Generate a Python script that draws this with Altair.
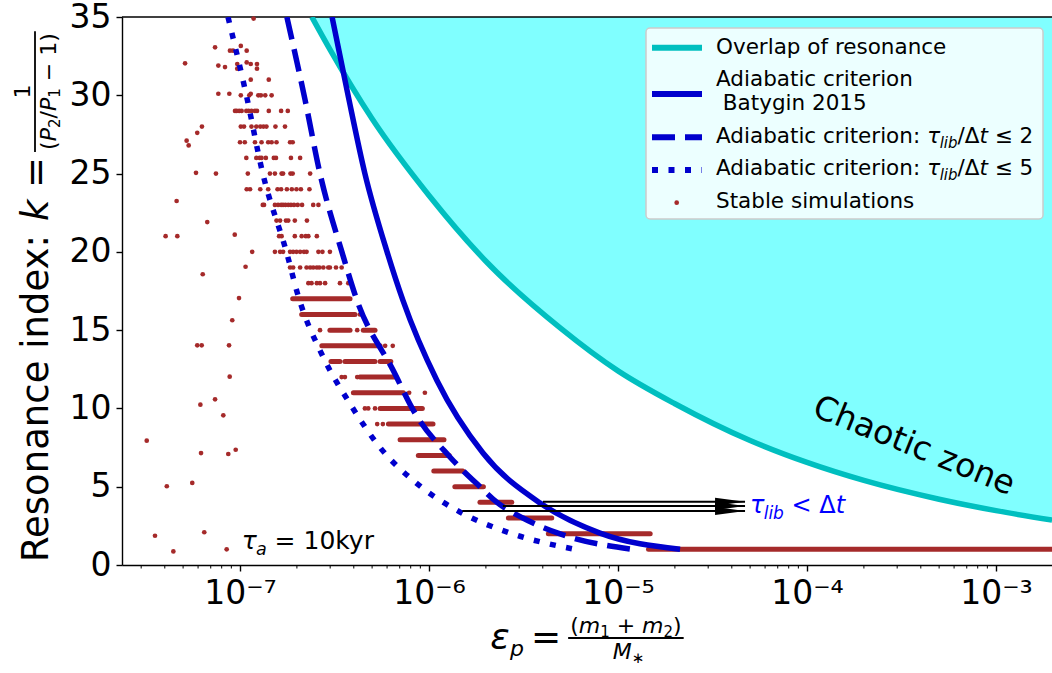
import altair as alt
import pandas as pd

# ---------------- values ----------------
# resonance-overlap boundary (chaotic zone lies above it)
overlap_eps = [2.40e-7, 3.0e-7, 5.0e-7, 1.0e-6, 2.0e-6, 5.0e-6, 1.0e-5, 2.0e-5,
               5.0e-5, 1.0e-4, 2.0e-4, 5.0e-4, 1.0e-3, 1.98e-3]
overlap_k = [35.0, 32.9, 28.5, 23.6, 19.4, 15.1, 12.4, 10.3, 7.95, 6.55, 5.4, 4.2, 3.47, 2.87]

# adiabatic criterion (Batygin 2015)
batygin_eps = [3.07e-7, 3.73e-7, 4.58e-7, 6.0e-7, 7.28e-7, 1.10e-6, 1.93e-6, 3.87e-6, 8.03e-6, 2.13e-5]
batygin_k = [35, 30, 25, 20, 16.9, 11.8, 7.15, 3.96, 2.04, 1.0]

# adiabatic criterion tau_lib/dt <= 2
tau2_eps = [1.77e-7, 2.21e-7, 2.65e-7, 3.46e-7, 4.16e-7, 6.45e-7, 8.43e-7, 1.29e-6,
            1.86e-6, 2.29e-6, 3.14e-6, 4.9e-6, 1.20e-5]
tau2_k = [35, 29.7, 25, 20, 16.9, 12.45, 9.7, 6.9, 5.0, 4.0, 3.0, 2.0, 1.0]

# adiabatic criterion tau_lib/dt <= 5
tau5_eps = [8.64e-8, 1.076e-7, 1.32e-7, 1.77e-7, 2.03e-7, 2.75e-7, 3.82e-7, 5.51e-7,
            8.64e-7, 1.46e-6, 2.68e-6, 5.92e-6]
tau5_k = [35, 30.1, 25, 19.9, 17.2, 13.3, 10.3, 7.5, 5.2, 3.38, 2.04, 1.0]

# stable simulations: individual points
stable_eps = [
    1.18e-7,
    7.38e-8, 8.85e-8, 9.18e-8, 1.01e-7, 1.085e-7,
    5.12e-8, 7.68e-8, 8.33e-8, 9.67e-8, 9.67e-8, 1.085e-7, 1.14e-7, 1.23e-7, 1.23e-7,
    1.14e-7, 1.42e-7,
    7.68e-8, 8.78e-8, 1.01e-7, 1.12e-7, 1.14e-7, 1.25e-7, 1.29e-7, 1.36e-7, 1.47e-7,
    9.41e-8, 9.6e-8, 9.9e-8, 1.02e-7, 1.08e-7, 1.11e-7, 1.15e-7, 1.20e-7, 1.23e-7, 1.42e-7, 1.65e-7, 1.79e-7,
    5.94e-8, 6.29e-8, 1.01e-7, 1.05e-7, 1.15e-7, 1.22e-7, 1.28e-7, 1.33e-7, 1.38e-7, 1.54e-7, 1.73e-7,
    5.22e-8, 5.35e-8, 1.0e-7, 1.06e-7, 1.20e-7, 1.30e-7, 1.41e-7, 1.47e-7, 1.56e-7, 1.84e-7, 1.90e-7,
    1.08e-7, 1.22e-7, 1.27e-7, 1.30e-7, 1.37e-7, 1.51e-7, 1.55e-7, 1.86e-7, 2.08e-7,
    5.85e-8, 7.46e-8, 1.10e-7, 1.44e-7, 1.53e-7, 1.66e-7, 1.69e-7, 1.85e-7, 1.90e-7, 2.35e-7,
    1.085e-7, 1.13e-7, 1.28e-7, 1.41e-7, 1.58e-7, 1.65e-7, 1.77e-7, 1.88e-7, 1.99e-7, 2.10e-7, 2.33e-7,
    4.62e-8, 1.32e-7, 1.34e-7, 1.53e-7, 1.59e-7, 1.65e-7, 1.69e-7, 1.74e-7, 1.80e-7, 1.86e-7, 1.93e-7,
    2.02e-7, 2.13e-7, 2.44e-7, 2.60e-7,
    6.71e-8, 1.56e-7, 1.63e-7, 1.75e-7, 1.80e-7, 1.95e-7, 2.26e-7,
    4.04e-8, 4.66e-8, 9.38e-8, 1.61e-7, 1.66e-7, 1.95e-7, 2.12e-7, 2.23e-7, 2.30e-7, 2.55e-7,
    1.16e-7, 1.53e-7, 1.63e-7, 1.69e-7, 1.84e-7, 1.91e-7, 1.99e-7, 2.08e-7, 2.18e-7, 2.25e-7, 2.60e-7, 2.73e-7, 2.99e-7,
    1.07e-7, 1.84e-7, 1.91e-7, 2.08e-7, 2.25e-7, 2.35e-7, 2.44e-7, 2.55e-7, 2.63e-7, 2.76e-7, 2.93e-7, 2.99e-7, 3.22e-7, 3.45e-7,
    6.35e-8, 2.30e-7, 2.39e-7, 2.55e-7, 2.65e-7, 2.82e-7, 3.38e-7, 3.74e-7,
    9.88e-8, 9.10e-8, 4.31e-7, 2.65e-7, 4.17e-7,
    5.94e-8, 6.27e-8, 8.75e-8, 5.86e-7, 6.43e-7,
    8.82e-8, 3.45e-7, 3.59e-7, 4.17e-7,
    7.85e-7, 9.51e-7,
    6.17e-8, 7.38e-8, 8.16e-8, 4.58e-7, 4.77e-7, 5.18e-7,
    5.32e-7, 5.70e-7,
    3.21e-8, 6.22e-8, 8.67e-8, 9.49e-8,
    4.10e-8, 5.59e-8,
    3.55e-8, 6.47e-8,
    4.44e-8, 8.50e-8,
]
stable_k = [
    34.9,
    33.06, 32.85, 32.85, 33.15, 32.85,
    32.04, 31.9, 31.8, 32.0, 31.7, 32.1, 32.0, 32.0, 31.7,
    31.0, 31.0,
    30.1, 30.1, 30.0, 30.0, 30.1, 30.0, 30.0, 30.0, 30.0,
    29, 29, 29, 29, 29, 29, 29, 29, 29, 29, 29, 29,
    27.6, 28.0, 28, 28, 28, 28, 28, 28, 28, 28, 28,
    27.1, 26.8, 27, 27, 27, 27, 27, 27, 27, 27, 27,
    26, 26, 26, 26, 26, 26, 26, 26, 26,
    25.05, 25.0, 25, 25, 25, 25, 25, 25, 25, 25,
    24, 24, 24, 24, 24, 24, 24, 24, 24, 24, 24,
    23.25, 23, 23, 23, 23, 23, 23, 23, 23, 23, 23,
    23, 23, 23, 23,
    21.9, 22, 22, 22, 22, 22, 22,
    21.0, 21.0, 21.1, 21, 21, 21, 21, 21, 21, 21,
    20.0, 20, 20, 20, 20, 20, 20, 20, 20, 20, 20, 20, 20,
    19.05, 19, 19, 19, 19, 19, 19, 19, 19, 19, 19, 19, 19, 19,
    18.57, 18, 18, 18, 18, 18, 18, 18,
    17.05, 15.63, 16, 15, 15,
    14.03, 14.03, 14.03, 14, 14,
    12.03, 12, 12, 12,
    11, 11,
    10.24, 10.58, 9.56, 10, 10, 10,
    9, 9,
    7.94, 7.15, 7.09, 7.36,
    5.03, 5.24,
    1.87, 2.09,
    0.87, 1.0,
]

# stable simulations: dense runs along one resonance index
run_k = [17, 16, 15, 15, 14, 13, 13, 13, 12, 11, 10, 9, 8, 7, 6, 5, 4, 3, 2, 1]
run_eps0 = [1.90e-7, 2.12e-7, 2.99e-7, 4.49e-7, 2.71e-7, 3.03e-7, 3.59e-7, 5.51e-7, 4.31e-7, 3.98e-7,
            5.51e-7, 6.10e-7, 7.03e-7, 8.78e-7, 1.06e-6, 1.37e-6, 1.86e-6, 2.63e-6, 4.28e-6, 1.45e-5]
run_eps1 = [3.82e-7, 4.06e-7, 3.82e-7, 5.18e-7, 5.51e-7, 3.38e-7, 5.18e-7, 6.28e-7, 6.69e-7, 7.32e-7,
            9.22e-7, 1.05e-6, 1.20e-6, 1.28e-6, 1.51e-6, 1.94e-6, 2.74e-6, 4.46e-6, 1.48e-5, 1.98e-3]

# arrows  (tau_lib < dt)
arrow_k = [4.04, 3.77, 3.45]
arrow_eps0 = [4.01e-6, 2.46e-6, 1.50e-6]
arrow_eps1 = [4.7e-5, 4.7e-5, 4.7e-5]

x_major = [1e-7, 1e-6, 1e-5, 1e-4, 1e-3]
x_minor = [m * 10.0 ** e for e in range(-8, -2) for m in range(2, 10)
           if 2.375e-8 < m * 10.0 ** e < 1.978e-3]
y_ticks = [0, 5, 10, 15, 20, 25, 30, 35]

# annotation anchors (data coordinates)
chaos_anchor = (3.68e-4, 7.6)
tlib_anchor = (4.99e-5, 3.29)
tau_a_anchor = (1.02e-7, 1.02)

# ---------------- layout ----------------
LEFT, TOP, PW, PH = 122, 17, 930, 548
FONT = 'DejaVu Sans'
BROWN = '#A52A2A'
BLUE = '#0000CD'
CYAN_LINE = '#00BFBF'
CYAN_FILL = '#80FFFF'

xs = alt.Scale(type='log', domain=[2.375e-8, 1.978e-3], nice=False)
ys = alt.Scale(domain=[0, 35], nice=False, zero=False)

sup_expr = "('' + round(log(datum.value) / LN10))"
for a, b in zip('-0123456789', '⁻⁰¹²³⁴⁵⁶⁷⁸⁹'):
    sup_expr = "replace(" + sup_expr + ", '" + a + "', '" + b + "')"

x_axis = alt.Axis(values=x_major, title=None, labelExpr="'10' + " + sup_expr, labelFont=FONT,
                  labelFontSize=33, labelColor='black', labelPadding=6, tickSize=6, tickWidth=1.4,
                  tickColor='black', domainColor='black', domainWidth=1.4, grid=False,
                  labelFlush=False, labelOverlap=False)
y_axis = alt.Axis(values=y_ticks, title=None, labelFont=FONT, labelFontSize=33, labelColor='black',
                  labelPadding=5, tickSize=6, tickWidth=1.4, tickColor='black', domainColor='black',
                  domainWidth=1.4, grid=False, labelFlush=False, labelOverlap=False)


def X(f):
    return alt.X(f, type='quantitative', scale=xs, axis=x_axis)


def Y(f):
    return alt.Y(f, type='quantitative', scale=ys, axis=y_axis)


W = {' ': 651, '(': 799, ')': 799, '+': 1716, '=': 1716, '−': 1716, '/': 690, '<': 1716,
     '≤': 1716, ':': 690, 'Δ': 1401, 'τ': 1170, 'ε': 1120, '*': 1024, '∗': 1024,
     'a': 1255, 'b': 1300, 'c': 1126, 'd': 1300, 'e': 1260, 'f': 721, 'g': 1300, 'h': 1298,
     'i': 569, 'k': 1186, 'l': 569, 'm': 1995, 'n': 1298, 'o': 1253, 'p': 1300, 'r': 842,
     's': 1067, 't': 803, 'u': 1298, 'v': 1212, 'x': 1212, 'y': 1212, 'z': 1075,
     'A': 1401, 'B': 1405, 'C': 1430, 'M': 1767, 'O': 1612, 'P': 1235, 'R': 1423, 'S': 1300}
for c in '0123456789':
    W[c] = 1303


def tw(s, fs):
    return sum(W.get(c, 1250) for c in s) / 2048.0 * fs


def lead(t, fs):
    s = t.lstrip(' ')
    return s.rstrip(' '), tw(t[:len(t) - len(s)], fs)


ONE = alt.Data(values=[{'a': 0}])


def txt(t, x, y, fs, italic=False, color='black', angle=0, align='left', baseline='alphabetic'):
    kw = dict(text=t, fontSize=fs, font=FONT, color=color, align=align, baseline=baseline)
    if italic:
        kw['fontStyle'] = 'italic'
    if angle:
        kw['angle'] = angle
    return alt.Chart(ONE).mark_text(**kw).encode(x=alt.value(x - LEFT), y=alt.value(y - TOP))


def hrow(pieces, x0, y0, color='black'):
    out, pos = [], 0.0
    for t, fs, it, sh in pieces:
        s, off = lead(t, fs)
        out.append(txt(s, x0 + pos + off, y0 + sh, fs, it, color))
        pos += tw(t, fs)
    return out


def width(pieces):
    return sum(tw(t, fs) for t, fs, it, sh in pieces)


def vrow(pieces, xb, y0, color='black'):
    out, pos = [], 0.0
    for t, fs, it, sh in pieces:
        s, off = lead(t, fs)
        out.append(txt(s, xb + sh, y0 - pos - off, fs, it, color, angle=270))
        pos += tw(t, fs)
    return out


def ann(pieces, anchor, color):
    out, pos = [], 0.0
    df = pd.DataFrame({'eps': [anchor[0]], 'k': [anchor[1]]})
    for t, fs, it, sh in pieces:
        s, off = lead(t, fs)
        kw = dict(text=s, fontSize=fs, font=FONT, color=color, align='left',
                  baseline='alphabetic', dx=pos + off, dy=sh)
        if it:
            kw['fontStyle'] = 'italic'
        out.append(alt.Chart(df).mark_text(**kw).encode(x=X('eps'), y=Y('k')))
        pos += tw(t, fs)
    return out


def pxrule(x1, y1, x2, y2, color='black', sw=1.5, dash=None):
    kw = dict(color=color, strokeWidth=sw)
    if dash:
        kw['strokeDash'] = dash
    return alt.Chart(ONE).mark_rule(**kw).encode(
        x=alt.value(x1 - LEFT), y=alt.value(y1 - TOP), x2=alt.value(x2 - LEFT), y2=alt.value(y2 - TOP))


# ---------------- data frames ----------------
df_over = pd.DataFrame({'eps': overlap_eps, 'k': overlap_k})
df_bat = pd.DataFrame({'eps': batygin_eps, 'k': batygin_k})
df_t2 = pd.DataFrame({'eps': tau2_eps, 'k': tau2_k})
df_t5 = pd.DataFrame({'eps': tau5_eps, 'k': tau5_k})
df_dots = pd.DataFrame({'eps': stable_eps, 'k': stable_k})
df_runs = pd.DataFrame({'k': run_k, 'e0': run_eps0, 'e1': run_eps1})
df_arr = pd.DataFrame({'k': arrow_k, 'e0': arrow_eps0, 'e1': arrow_eps1})
df_minor = pd.DataFrame({'eps': x_minor})

layers = []
# chaotic zone fill (between boundary and the top of the plot)
layers.append(alt.Chart(df_over).mark_area(color=CYAN_FILL, interpolate='monotone', clip=True,
                                           orient='vertical').encode(
    x=X('eps'), y=Y('k'), y2=alt.datum(35)))
# minor ticks
layers.append(alt.Chart(df_minor).mark_rule(color='black', strokeWidth=1).encode(
    x=X('eps'), y=alt.value(PH), y2=alt.value(PH + 3.5)))
# top spine
layers.append(pxrule(LEFT, TOP, LEFT + PW, TOP, sw=1.4))
# overlap line
layers.append(alt.Chart(df_over).mark_line(color=CYAN_LINE, strokeWidth=5.5, interpolate='monotone',
                                           clip=True).encode(x=X('eps'), y=Y('k')))
# stable simulations
layers.append(alt.Chart(df_runs).mark_rule(color=BROWN, strokeWidth=5, strokeCap='round', clip=True).encode(
    x=X('e0'), x2='e1', y=Y('k')))
layers.append(alt.Chart(df_dots).mark_circle(color=BROWN, size=22, opacity=1).encode(x=X('eps'), y=Y('k')))
# adiabatic curves
layers.append(alt.Chart(df_t5).mark_line(color=BLUE, strokeWidth=5.5, interpolate='monotone', clip=True,
                                         strokeDash=[6, 10.5]).encode(x=X('eps'), y=Y('k')))
layers.append(alt.Chart(df_t2).mark_line(color=BLUE, strokeWidth=5.5, interpolate='monotone', clip=True,
                                         strokeDash=[23, 10]).encode(x=X('eps'), y=Y('k')))
layers.append(alt.Chart(df_bat).mark_line(color=BLUE, strokeWidth=5.5, interpolate='monotone',
                                          clip=True).encode(x=X('eps'), y=Y('k')))
# arrows
layers.append(alt.Chart(df_arr).mark_rule(color='black', strokeWidth=2).encode(
    x=X('e0'), x2='e1', y=Y('k')))
layers.append(alt.Chart(df_arr).mark_point(shape='M0,0L-2,-0.27L-2,0.27Z', size=900, filled=True,
                                           color='black', opacity=1, strokeWidth=0).encode(
    x=X('e1'), y=Y('k')))

# annotations
df_ch = pd.DataFrame({'eps': [chaos_anchor[0]], 'k': [chaos_anchor[1]]})
layers.append(alt.Chart(df_ch).mark_text(text='Chaotic zone', fontSize=33, font=FONT, color='black',
                                         angle=22, align='center', baseline='middle').encode(
    x=X('eps'), y=Y('k')))
layers += ann([('τ', 24, True, 0), ('lib', 17, True, 6), (' < Δ', 24, False, 0), ('t', 24, True, 0)],
              tlib_anchor, '#0000FF')
layers += ann([('τ', 25, True, 0), ('a', 17.5, True, 6), (' = 10kyr', 25, False, 0)],
              tau_a_anchor, 'black')

# legend
layers.append(alt.Chart(ONE).mark_rect(fill='white', fillOpacity=0.85, stroke='#cccccc', strokeWidth=1.5,
                                       cornerRadius=4).encode(
    x=alt.value(646 - LEFT), x2=alt.value(1043 - LEFT), y=alt.value(28 - TOP), y2=alt.value(219 - TOP)))
LS = 21.5
layers.append(pxrule(652, 47.7, 702, 47.7, CYAN_LINE, 6))
layers += hrow([('Overlap of resonance', LS, False, 0)], 716, 54.3)
layers.append(pxrule(652, 94, 702, 94, BLUE, 6))
layers += hrow([('Adiabatic criterion', LS, False, 0)], 716, 86)
layers += hrow([(' Batygin 2015', LS, False, 0)], 716, 110)
layers.append(pxrule(652, 137.3, 702, 137.3, BLUE, 6, [23, 10]))
layers += hrow([('Adiabatic criterion: ', LS, False, 0), ('τ', LS, True, 0), ('lib', 15, True, 5),
                ('/Δ', LS, False, 0), ('t', LS, True, 0), (' ≤ 2', LS, False, 0)], 716, 142.7)
layers.append(pxrule(652, 170, 702, 170, BLUE, 6, [6, 10.5]))
layers += hrow([('Adiabatic criterion: ', LS, False, 0), ('τ', LS, True, 0), ('lib', 15, True, 5),
                ('/Δ', LS, False, 0), ('t', LS, True, 0), (' ≤ 5', LS, False, 0)], 716, 175.3)
layers.append(alt.Chart(ONE).mark_circle(color=BROWN, size=22, opacity=1).encode(
    x=alt.value(676.7 - LEFT), y=alt.value(202.7 - TOP)))
layers += hrow([('Stable simulations', LS, False, 0)], 716, 208.3)

# x-axis title:  eps_p = (m1 + m2) / M*
MF, FF = 36, 22
num = [('(', FF, False, 0), ('m', FF, True, 0), ('1', 15, False, 4), (' + ', FF, False, 0),
       ('m', FF, True, 0), ('2', 15, False, 4), (')', FF, False, 0)]
den = [('M', FF, True, 0), ('∗', 15, False, 4)]
bar_w = width(num) + 4
head_w = tw('ε', MF) + tw('p', FF) + 7 + tw('=', MF) + 7
total = head_w + bar_w
xb = LEFT + PW / 2.0
x0 = xb - total / 2.0
base = 649
layers.append(txt('ε', x0, base, MF, True))
layers.append(txt('p', x0 + tw('ε', MF), base + 7, FF, True))
layers.append(txt('=', x0 + tw('ε', MF) + tw('p', FF) + 7, base, MF))
fx0 = x0 + head_w
bar_y = base - 11
layers.append(pxrule(fx0, bar_y, fx0 + bar_w, bar_y, 'black', 1.8))
layers += hrow(num, fx0 + (bar_w - width(num)) / 2.0, bar_y - 5)
layers += hrow(den, fx0 + (bar_w - width(den)) / 2.0, bar_y + 5 + 0.73 * FF)

# y-axis title:  Resonance index: k = 1 / (P2/P1 - 1)
YF = 37
main = [('Resonance index: ', YF, False, 0), ('k', YF, True, 0), (' =', YF, False, 0)]
ybase_x = 48
y0 = 562
layers += vrow(main, ybase_x, y0)
yend = y0 - width(main) - 5
denom = [('(', FF, False, 0), ('P', FF, True, 0), ('2', 15, False, 4), ('/', FF, False, 0),
         ('P', FF, True, 0), ('1', 15, False, 4), (' − ', FF, False, 0), ('1', FF, False, 0),
         (')', FF, False, 0)]
ybar_len = width(denom) + 4
bar_x = 35
layers.append(pxrule(bar_x, yend, bar_x, yend - ybar_len, 'black', 1.8))
ycen = yend - ybar_len / 2.0
layers.append(txt('1', bar_x - 5, ycen, FF, angle=270, align='center'))
layers += vrow(denom, bar_x + 5 + 0.73 * FF, ycen + width(denom) / 2.0)

chart = alt.layer(*layers).properties(
    width=PW, height=PH,
    autosize=alt.AutoSizeParams(type='none'),
    padding={'left': LEFT, 'top': TOP, 'right': 0, 'bottom': 673 - TOP - PH},
    background='white',
).configure_view(stroke='transparent')

chart.save('out.html', embed_options={'renderer': 'svg', 'actions': False})
